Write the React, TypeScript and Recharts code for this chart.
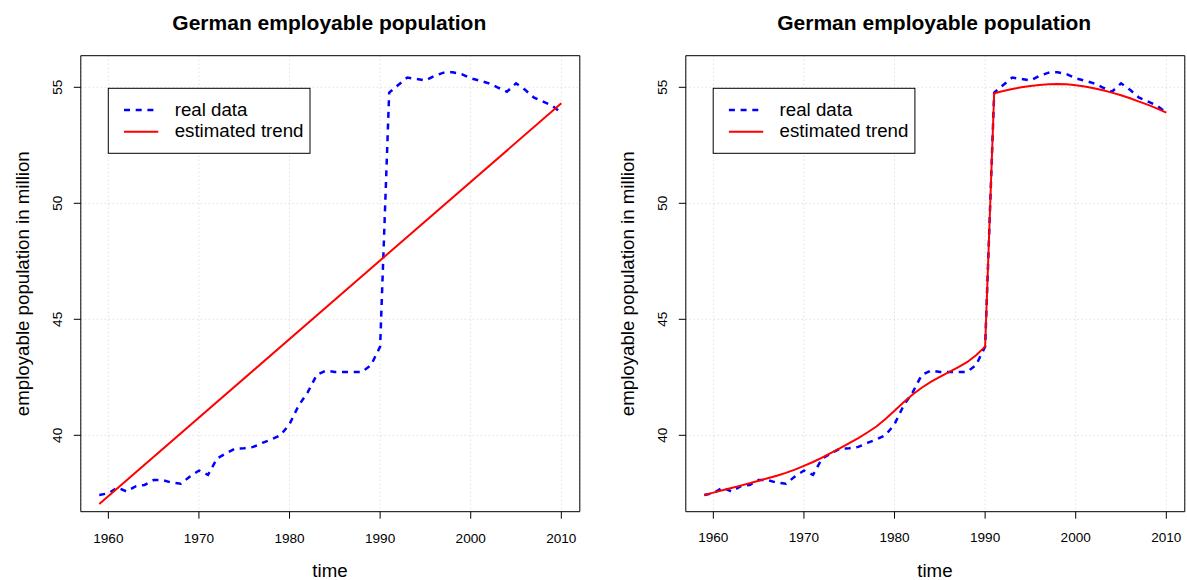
import React from "react";
import {
  LineChart,
  Line,
  XAxis,
  YAxis,
  CartesianGrid,
  ReferenceArea,
} from "recharts";

// years of observation
const years = [
  1959, 1960, 1961, 1962, 1963, 1964, 1965, 1966, 1967, 1968, 1969, 1970,
  1971, 1972, 1973, 1974, 1975, 1976, 1977, 1978, 1979, 1980, 1981, 1982,
  1983, 1984, 1985, 1986, 1987, 1988, 1989, 1990, 1991, 1992, 1993, 1994,
  1995, 1996, 1997, 1998, 1999, 2000, 2001, 2002, 2003, 2004, 2005, 2006,
  2007, 2008, 2009, 2010,
];

// employable population in million (real data)
const realData = [
  37.43, 37.5, 37.75, 37.58, 37.8, 37.86, 38.07, 38.07, 37.96, 37.91, 38.22,
  38.48, 38.29, 39.0, 39.22, 39.43, 39.44, 39.5, 39.67, 39.82, 40.0, 40.48,
  41.28, 41.85, 42.6, 42.79, 42.73, 42.73, 42.73, 42.73, 43.03, 43.82, 54.77,
  55.1, 55.42, 55.36, 55.29, 55.49, 55.63, 55.65, 55.57, 55.39, 55.29, 55.17,
  54.99, 54.81, 55.17, 54.89, 54.55, 54.38, 54.2, 53.91,
];

// straight trend (left panel): start and end
const linearYears = [1959, 2010];
const linearTrend = [37.04, 54.31];

// trend with structural break (right panel)
const breakTrend = [
  37.43, 37.53, 37.63, 37.73, 37.83, 37.93, 38.04, 38.15, 38.26, 38.38, 38.52,
  38.68, 38.85, 39.04, 39.24, 39.45, 39.66, 39.88, 40.12, 40.38, 40.7, 41.06,
  41.42, 41.76, 42.05, 42.3, 42.52, 42.72, 42.93, 43.15, 43.45, 43.82, 54.74,
  54.84, 54.93, 55.0, 55.06, 55.1, 55.13, 55.14, 55.13, 55.09, 55.03, 54.96,
  54.87, 54.77, 54.66, 54.53, 54.38, 54.24, 54.08, 53.91,
];

const xTicks = [1960, 1970, 1980, 1990, 2000, 2010];
const yTicks = [40, 45, 50, 55];

const X_MIN = 1956.96;
const X_MAX = 2012.04;
const Y_MIN = 36.707;
const Y_MAX = 56.362;

const FONT = "'Liberation Sans', Arial, Helvetica, sans-serif";

const PLOT_LEFT = 80.8;
const PLOT_RIGHT = 579.8;
const PLOT_TOP = 55.7;
const PLOT_BOTTOM = 511.7;
const CHART_H = 580;
const RIGHT_SHIFT = 604.9;

const realRows = years.map((year, i) => ({ year, value: realData[i] }));
const linearRows = linearYears.map((year, i) => ({ year, value: linearTrend[i] }));
const breakRows = years.map((year, i) => ({ year, value: breakTrend[i] }));

const XTick = (props: any) => {
  const { x, y, payload } = props;
  return (
    <text x={x} y={y + 21.8} textAnchor='middle' fontSize={13.6} fill='#000' fontFamily={FONT}>
      {payload.value}
    </text>
  );
};

const YTick = (props: any) => {
  const { x, y, payload } = props;
  const bx = x - 10.1;
  return (
    <text
      x={bx}
      y={y}
      transform={`rotate(-90, ${bx}, ${y})`}
      textAnchor='middle'
      fontSize={13.6}
      fill='#000'
      fontFamily={FONT}
    >
      {payload.value}
    </text>
  );
};

interface PanelProps {
  trendRows: { year: number; value: number }[];
  width: number;
}

const Panel: React.FC<PanelProps> = ({ trendRows, width }) => (
  <LineChart
    width={width}
    height={CHART_H}
    margin={{ top: PLOT_TOP, right: width - PLOT_RIGHT, left: 0, bottom: 0 }}
  >
    <CartesianGrid stroke='#d3d3d3' strokeDasharray='1 3' />
    <XAxis
      dataKey='year'
      type='number'
      domain={[X_MIN, X_MAX]}
      ticks={xTicks}
      interval={0}
      allowDataOverflow
      axisLine={false}
      tickLine={{ stroke: "#000" }}
      tickSize={7}
      tick={<XTick />}
      height={CHART_H - PLOT_BOTTOM}
    />
    <YAxis
      dataKey='value'
      type='number'
      domain={[Y_MIN, Y_MAX]}
      ticks={yTicks}
      interval={0}
      allowDataOverflow
      axisLine={false}
      tickLine={{ stroke: "#000" }}
      tickSize={7}
      tick={<YTick />}
      width={PLOT_LEFT}
    />
    <ReferenceArea
      x1={X_MIN}
      x2={X_MAX}
      y1={Y_MIN}
      y2={Y_MAX}
      fill='none'
      fillOpacity={0}
      stroke='#000'
      strokeWidth={1}
      ifOverflow='visible'
    />
    <Line
      data={realRows}
      dataKey='value'
      type='linear'
      stroke='#0000ff'
      strokeWidth={2.5}
      strokeDasharray='6 5.7'
      dot={false}
      activeDot={false}
      isAnimationActive={false}
    />
    <Line
      data={trendRows}
      dataKey='value'
      type='linear'
      stroke='#ff0000'
      strokeWidth={2}
      dot={false}
      activeDot={false}
      isAnimationActive={false}
    />
  </LineChart>
);

// titles, axis titles and legend for one panel, offset by dx
const Decorations = ({ dx }: { dx: number }) => (
  <g fontFamily={FONT} fill='#000'>
    <text x={dx + 329.3} y={30} textAnchor='middle' fontSize={21} fontWeight='bold'>
      German employable population
    </text>
    <text x={dx + 330} y={576.7} textAnchor='middle' fontSize={18.7}>
      time
    </text>
    <text
      x={dx + 29.3}
      y={283.7}
      transform={`rotate(-90, ${dx + 29.3}, 283.7)`}
      textAnchor='middle'
      fontSize={18.7}
    >
      employable population in million
    </text>
    <rect x={dx + 108.3} y={88.3} width={201.7} height={65} fill='#fff' stroke='#000' strokeWidth={1} />
    <line x1={dx + 124} x2={dx + 158.3} y1={110} y2={110} stroke='#0000ff' strokeWidth={2.5} strokeDasharray='6 5.7' />
    <line x1={dx + 124} x2={dx + 158.3} y1={131.7} y2={131.7} stroke='#ff0000' strokeWidth={2} />
    <text x={dx + 174.7} y={116} fontSize={18.7}>
      real data
    </text>
    <text x={dx + 174.7} y={137.3} fontSize={18.7}>
      estimated trend
    </text>
  </g>
);

const App: React.FC = () => {
  return (
    <div
      style={{
        position: "absolute",
        left: 0,
        top: 0,
        width: 1187,
        height: 580,
        background: "#fff",
        overflow: "hidden",
      }}
    >
      <div style={{ position: "absolute", left: 0, top: 0 }}>
        <Panel trendRows={linearRows} width={593} />
      </div>
      <div style={{ position: "absolute", left: RIGHT_SHIFT, top: 0 }}>
        <Panel trendRows={breakRows} width={1187 - RIGHT_SHIFT} />
      </div>
      <svg
        width={1187}
        height={580}
        style={{ position: "absolute", left: 0, top: 0, pointerEvents: "none" }}
      >
        <Decorations dx={0} />
        <Decorations dx={RIGHT_SHIFT} />
      </svg>
    </div>
  );
};

export default App;
